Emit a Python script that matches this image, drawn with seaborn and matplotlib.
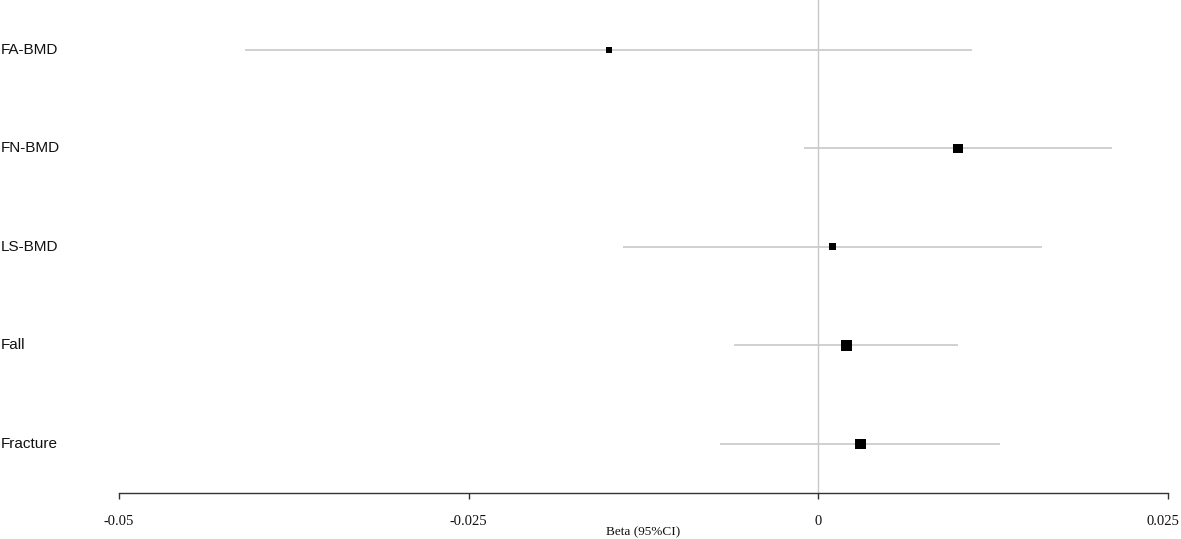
import matplotlib
matplotlib.use("Agg")
import matplotlib.pyplot as plt
import matplotlib.transforms as mtransforms
import pandas as pd
import seaborn as sns

# ============================================================
# DATA
# ============================================================

outcomes = ["FA-BMD", "FN-BMD", "LS-BMD", "Fall", "Fracture"]
beta     = [-0.015, 0.010, 0.001, 0.002, 0.003]
ci_low   = [-0.041, -0.001, -0.014, -0.006, -0.007]
ci_high  = [0.011, 0.021, 0.016, 0.010, 0.013]
weight   = [36, 90, 49, 121, 110]   # relative study weight (box area)

x_ticks  = [-0.05, -0.025, 0, 0.025]
x_labels = ["-0.05", "-0.025", "0", "0.025"]

df = pd.DataFrame({
    "outcome": outcomes,
    "beta": beta,
    "lo": ci_low,
    "hi": ci_high,
    "weight": weight,
})
df["row"] = range(len(df))

# ============================================================
# PLOT
# ============================================================

sns.set_style("white")
plt.rcParams["font.family"] = ["Liberation Sans", "DejaVu Sans"]

W, H = 1181, 539
fig = plt.figure(figsize=(W / 100, H / 100), dpi=100)
ax = fig.add_axes([119 / W, (H - 493) / H, 1049 / W, 493 / H])

# zero reference line
ax.axvline(0, color="#c8c8c8", lw=1, zorder=0)

# confidence intervals
ax.hlines(df["row"], df["lo"], df["hi"], color="#c8c8c8", lw=1.2, zorder=1)

# point estimates, box area ~ weight
px2pt = 0.72 ** 2
sns.scatterplot(
    data=df, x="beta", y="row", size="weight",
    sizes=(min(weight) * px2pt, max(weight) * px2pt),
    marker="s", color="black", linewidth=0, legend=False, ax=ax, zorder=3,
)

ax.set_xlim(-0.05, 0.025)
ax.set_ylim(4.5, -0.505)

# row labels at the far left of the figure
trans = mtransforms.blended_transform_factory(fig.transFigure, ax.transData)
for r, name in zip(df["row"], df["outcome"]):
    ax.text(1 / W, r, name, transform=trans, ha="left", va="center",
            fontsize=11, color="#111111")

# axis styling
for s in ["left", "top", "right"]:
    ax.spines[s].set_visible(False)
ax.spines["bottom"].set_color("#333333")
ax.spines["bottom"].set_linewidth(1)
ax.set_yticks([])
ax.set_xticks(x_ticks)
ax.set_xticklabels(x_labels, fontfamily="Liberation Serif", fontsize=10.5)
ax.tick_params(axis="x", bottom=True, direction="out", length=4, width=1,
               color="#333333", pad=12, labelcolor="#111111")
# last tick label sits flush with the right edge
last = ax.get_xticklabels()[-1]
last.set_transform(last.get_transform() +
                   mtransforms.ScaledTranslation(-5 / 100, 0, fig.dpi_scale_trans))
ax.set_xlabel("")
ax.set_ylabel("")

fig.text(643 / W, 1 - 532 / H, "Beta (95%CI)", ha="center", va="center",
         fontfamily="Liberation Serif", fontsize=9.5, color="#111111")

fig.savefig("out.png", dpi=100)
plt.close(fig)
